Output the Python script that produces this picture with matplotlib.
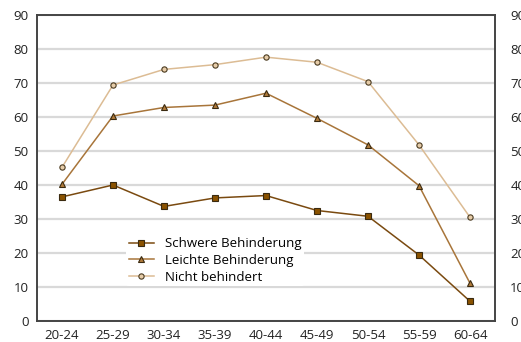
import matplotlib
matplotlib.use("Agg")
import matplotlib.pyplot as plt

plt.rcParams['font.family'] = ['Open Sans', 'DejaVu Sans']

altersgruppen = ["20-24", "25-29", "30-34", "35-39", "40-44", "45-49", "50-54", "55-59", "60-64"]
schwere = [36.5, 40.0, 33.7, 36.2, 36.9, 32.5, 30.8, 19.4, 5.8]
leichte = [40.2, 60.3, 62.8, 63.5, 67.0, 59.6, 51.8, 39.8, 11.1]
nicht = [45.2, 69.4, 74.0, 75.4, 77.6, 76.1, 70.4, 51.8, 30.5]
yticks = [0, 10, 20, 30, 40, 50, 60, 70, 80, 90]

fig = plt.figure(figsize=(5.21, 3.42), dpi=100)
ax = fig.add_axes([37 / 521, 1 - 321 / 342, (495 - 37) / 521, (321 - 15) / 342])

x = range(len(altersgruppen))
ax.plot(x, schwere, color="#7a4a10", lw=1.1, marker="s", ms=4.5,
        mfc="#8a5200", mec="#3a2a10", mew=0.8, label="Schwere Behinderung", zorder=4)
ax.plot(x, leichte, color="#a8753a", lw=1.1, marker="^", ms=4.5,
        mfc="#b07a3a", mec="#3a2a10", mew=0.8, label="Leichte Behinderung", zorder=3)
ax.plot(x, nicht, color="#dcbc94", lw=1.1, marker="o", ms=3.8,
        mfc="#e6cca8", mec="#4a3a20", mew=0.8, label="Nicht behindert", zorder=2)

ax.set_xlim(-0.49, len(altersgruppen) - 0.51)
ax.set_ylim(0, 90)
ax.set_yticks(yticks)
ax.set_xticks(list(x))
ax.set_xticklabels(altersgruppen)
ax.yaxis.grid(True, color="#d9d9d9", lw=1.6)
ax.set_axisbelow(True)
ax.tick_params(length=0, labelsize=9.5, colors="#222222", pad=6)
for s in ax.spines.values():
    s.set_color("#444444")
    s.set_linewidth(1.4)

ax2 = ax.twinx()
ax2.set_ylim(0, 90)
ax2.set_yticks(yticks)
ax2.tick_params(length=0, labelsize=9.5, colors="#222222", pad=11)
for s in ax2.spines.values():
    s.set_visible(False)

leg = ax.legend(loc="lower left", bbox_to_anchor=(0.18, 0.092), frameon=True,
                fontsize=9.5, handlelength=1.9, labelspacing=0.28,
                borderpad=0.2, handletextpad=0.85)
leg.get_frame().set_edgecolor("none")
leg.get_frame().set_facecolor("white")
leg.get_frame().set_alpha(1)

fig.savefig("out.png", dpi=100)
